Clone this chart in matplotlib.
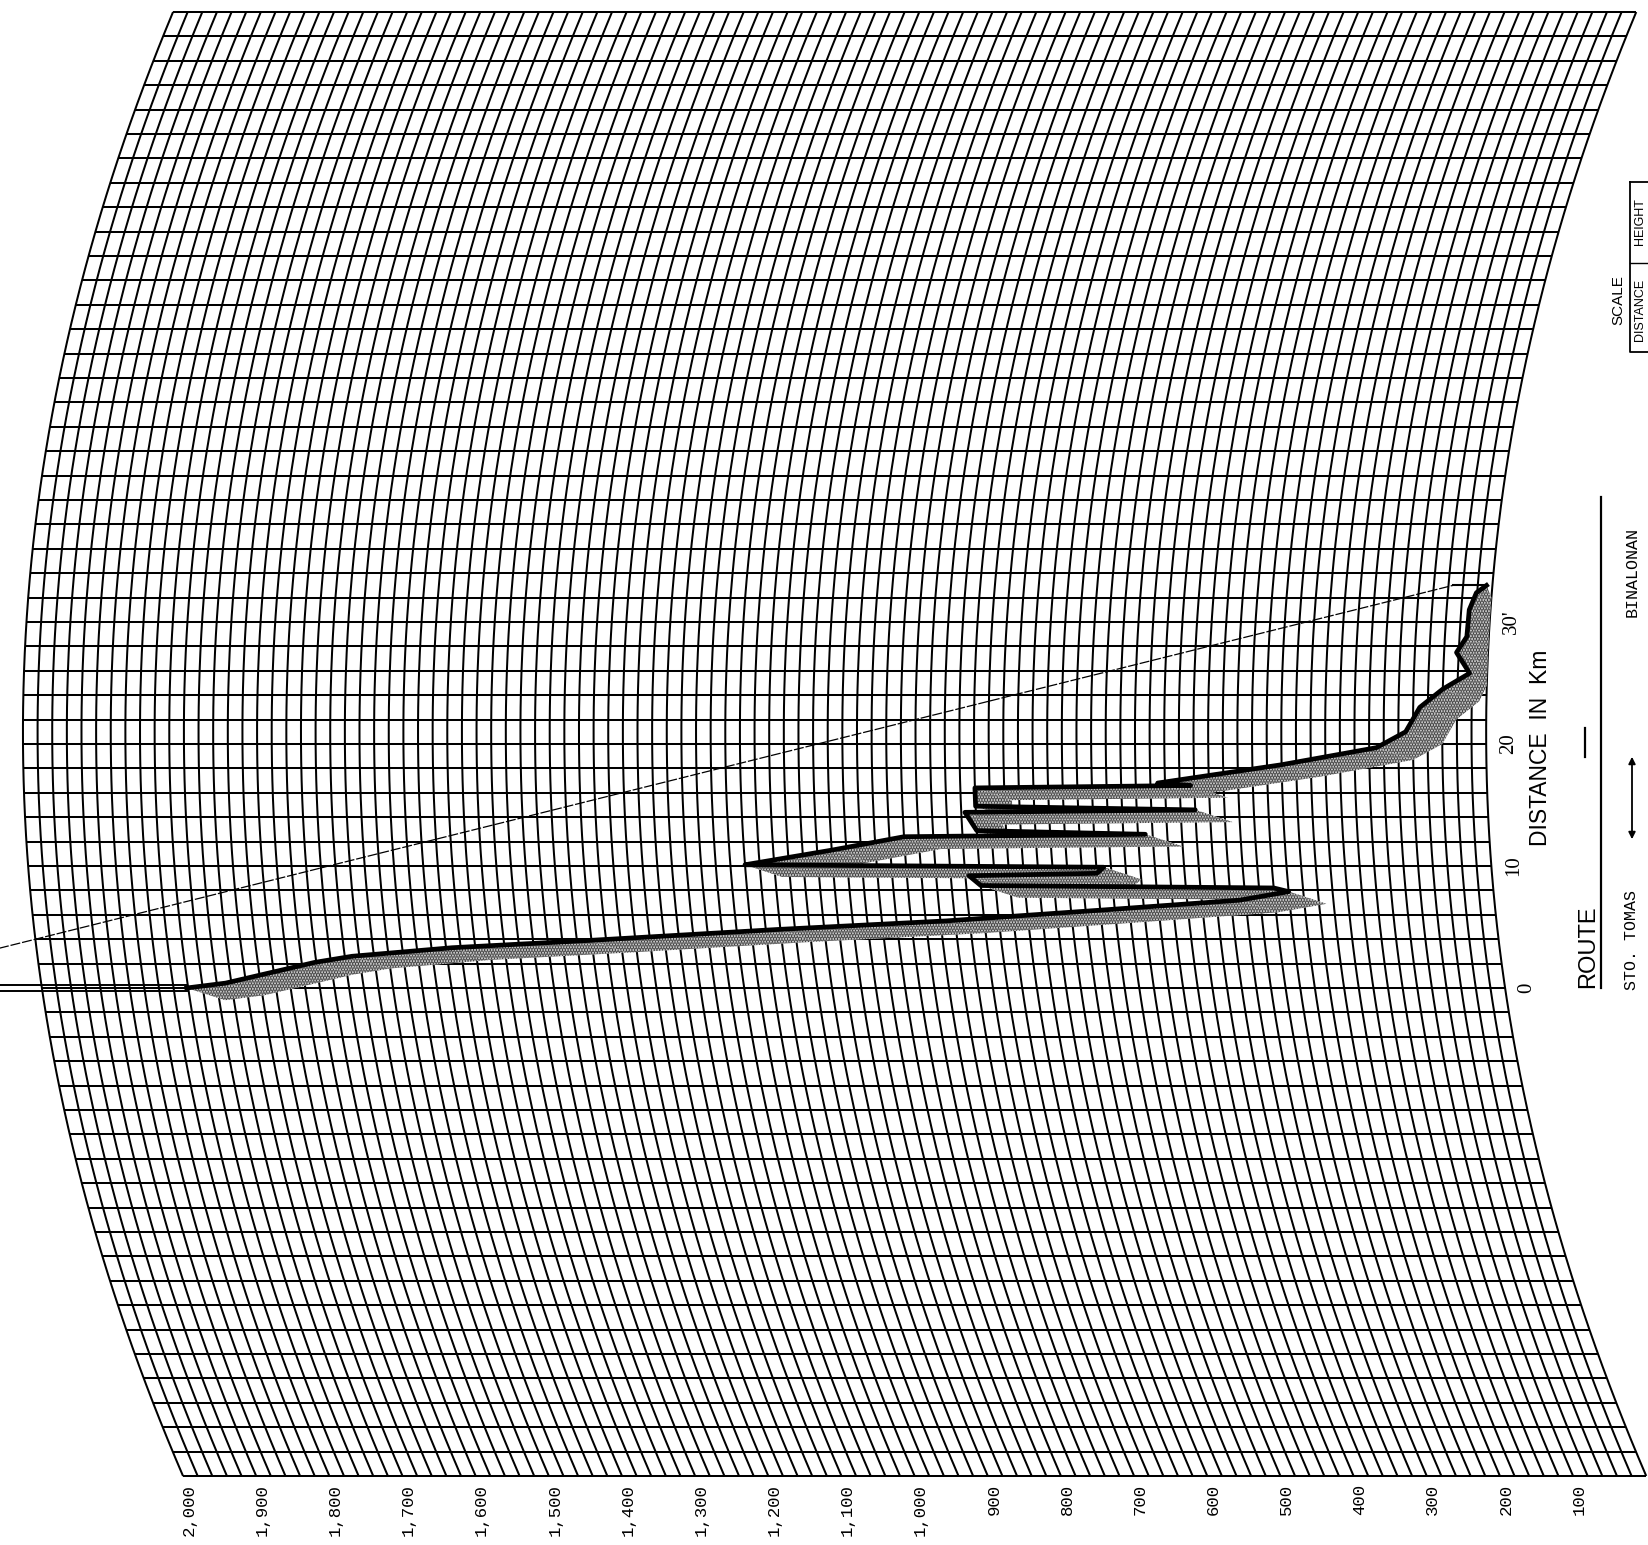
import numpy as np
import matplotlib
matplotlib.use("Agg")
import matplotlib.pyplot as plt
from matplotlib.transforms import Transform, Affine2D
from matplotlib.collections import PolyCollection

# ---------------- data ----------------
height_ticks = [2000, 1900, 1800, 1700, 1600, 1500, 1400, 1300, 1200, 1100,
                1000, 900, 800, 700, 600, 500, 400, 300, 200, 100]
height_labels = ["2,000", "1,900", "1,800", "1,700", "1,600", "1,500", "1,400",
                 "1,300", "1,200", "1,100", "1,000", "900", "800", "700", "600",
                 "500", "400", "300", "200", "100"]
distance_ticks = [0, 10, 20, 30]
distance_labels = ["0", "10", "20", "30'"]

profile_km = [0.0, 0.4, 2.1, 2.6, 3.3, 3.9, 4.8, 5.5, 6.4, 7.2, 7.9, 8.2, 8.4,
              9.2, 9.4, 9.9, 10.1, 10.4, 11.3, 12.4, 12.6, 12.9, 14.4, 14.6,
              14.9, 16.4, 16.6, 16.8, 18.3, 19.7, 21.0, 23.0, 24.5, 25.8, 27.5,
              28.8, 31.0, 32.4, 33.0]
profile_m = [1802, 1748, 1622, 1570, 1432, 1243, 983, 752, 535, 348, 280, 300, 700,
             715, 540, 530, 1020, 990, 900, 800, 470, 700, 715, 400,
             700, 700, 405, 450, 280, 150, 110, 91, 60, 24, 43,
             30, 29, 21, 8]
shadow_km = 1.0
shadow_m = 50

los_km = [0.0, 33.0]
los_m = [2276, 54]
tower_a_m = [1802, 2276]
tower_b_m = [8, 54]

route_from = "STO. TOMAS"
route_to = "BINALONAN"

# chart template: 4/3 earth, distance -40..80 km, height 0..2000 m
D_MIN, D_MAX, D_STEP = -40, 80, 2
H_MIN, H_MAX, H_STEP = 0, 2000, 20
K_FACTOR = 4.0 / 3.0


class EarthBulge(Transform):
    input_dims = 2
    output_dims = 2
    is_separable = False
    has_inverse = False

    def __init__(self, dmin, dmax, k):
        super().__init__()
        self.dmin, self.dmax, self.k = dmin, dmax, k

    def transform_non_affine(self, values):
        v = np.atleast_2d(np.asarray(values, dtype=float))
        d = v[:, 0]
        h = v[:, 1]
        b = (d - self.dmin) * (self.dmax - d) / (12.74 * self.k)
        return np.column_stack([d, h + b])


W, H = 1648, 1545
fig = plt.figure(figsize=(W / 100, H / 100), dpi=100)
ax = fig.add_axes([0, 0, 1, 1])
ax.set_xlim(0, W)
ax.set_ylim(H, 0)
ax.axis("off")

# (distance, effective height) -> page pixels (chart printed rotated)
page = Affine2D(np.array([[-0.0833, -0.7316, 1642.9],
                          [-12.2, 0.0, 988.0],
                          [0.0, 0.0, 1.0]]))
chart = EarthBulge(D_MIN, D_MAX, K_FACTOR) + page + ax.transData

grid_kw = dict(color="black", lw=1.45, solid_capstyle="butt", transform=chart)
dd = np.linspace(D_MIN, D_MAX, 241)
for hv in np.arange(H_MIN, H_MAX + 1, H_STEP):
    ax.plot(dd, np.full_like(dd, hv), **grid_kw)
for dv in np.arange(D_MIN, D_MAX + 1, D_STEP):
    ax.plot([dv, dv], [H_MIN, H_MAX], **grid_kw)

# terrain stipple (shadow band under the profile)
pd_ = np.array(profile_km)
ph_ = np.array(profile_m, dtype=float)
quads = []
for i in range(len(pd_) - 1):
    quads.append([(pd_[i], ph_[i]), (pd_[i + 1], ph_[i + 1]),
                  (pd_[i + 1] - shadow_km, max(ph_[i + 1] - shadow_m, 0)),
                  (pd_[i] - shadow_km, max(ph_[i] - shadow_m, 0))])
plt.rcParams["hatch.linewidth"] = 1.8
pc = PolyCollection(quads, facecolors="0.9", edgecolors="0.25", hatch="......",
                    linewidths=0, transform=chart, zorder=3)
ax.add_collection(pc)

# profile
ax.plot(profile_km, profile_m, color="black", lw=3.4, transform=chart,
        zorder=4, solid_joinstyle="round")

# towers and line of sight
for off in (-0.25, 0.25):
    ax.plot([los_km[0] + off] * 2, tower_a_m, color="black", lw=1.4,
            transform=chart, zorder=4)
ax.plot([los_km[1]] * 2, tower_b_m, color="black", lw=1.5, transform=chart, zorder=4)
ax.plot(los_km, los_m, color="black", lw=0.9, ls=(0, (8, 1.5)),
        transform=chart, zorder=4)

# height labels (bottom)
for hv, lab in zip(height_ticks, height_labels):
    ax.annotate(lab, xy=(D_MIN, hv), xycoords=chart, xytext=(6, -8),
                textcoords="offset pixels", rotation=90, ha="center", va="top",
                fontsize=12.5, family="Liberation Mono")

# distance labels
for dv, lab in zip(distance_ticks, distance_labels):
    ax.annotate(lab, xy=(dv, H_MIN), xycoords=chart, xytext=(22, 0),
                textcoords="offset pixels", rotation=90, ha="center", va="center",
                fontsize=15, family="Liberation Serif")

# title block
ax.text(1541, 748, "DISTANCE  IN  Km", rotation=90, ha="center", va="center",
        fontsize=16.5, family="Liberation Sans")
ax.plot([1601, 1601], [497, 988], color="black", lw=1.6)
ax.plot([1585, 1585], [728, 757], color="black", lw=1.6)
ax.text(1588, 988, "ROUTE", rotation=90, ha="center", va="bottom",
        fontsize=17, family="Liberation Sans")
ax.text(1632, 990, route_from, rotation=90, ha="center", va="bottom",
        fontsize=12, family="Liberation Mono")
ax.text(1632, 572, route_to, rotation=90, ha="center", va="center",
        fontsize=12, family="Liberation Mono")
ax.annotate("", xy=(1632, 754), xytext=(1632, 842),
            arrowprops=dict(arrowstyle="<|-|>", color="black", lw=1.3,
                            mutation_scale=10))
ax.text(1618, 300, "SCALE", rotation=90, ha="center", va="center",
        fontsize=11, family="Liberation Sans")
ax.plot([1630, 1630, 1648], [182, 352, 352], color="black", lw=1.3)
ax.plot([1630, 1648], [182, 182], color="black", lw=1.3)
ax.plot([1630, 1648], [263, 263], color="black", lw=1.0)
ax.text(1640, 310, "DISTANCE", rotation=90, ha="center", va="center",
        fontsize=9, family="Liberation Sans")
ax.text(1640, 222, "HEIGHT", rotation=90, ha="center", va="center",
        fontsize=9, family="Liberation Sans")

fig.savefig("out.png", dpi=100, facecolor="white")
